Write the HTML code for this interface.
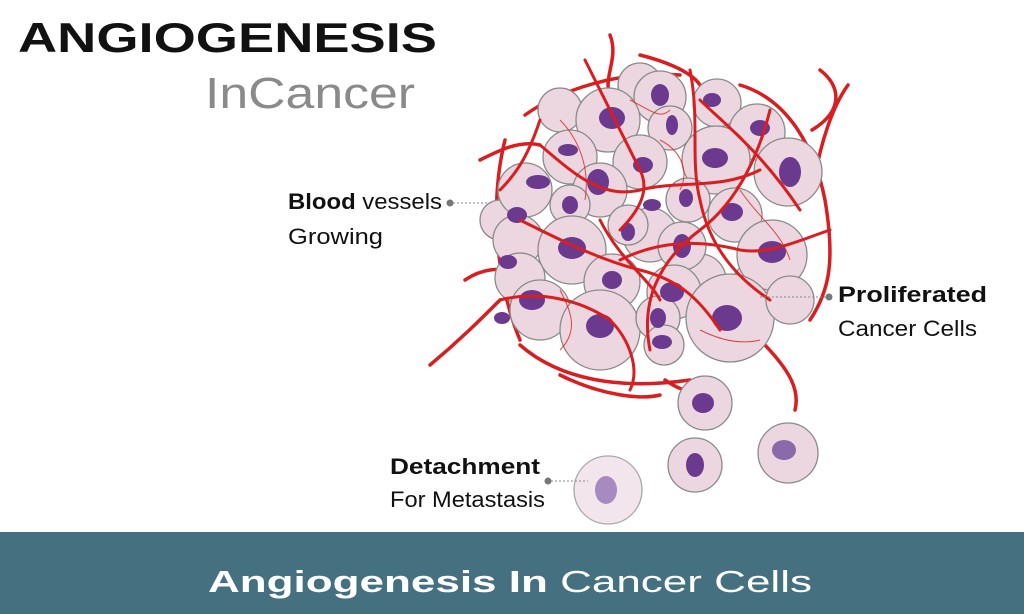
<!DOCTYPE html>
<html><head><meta charset="utf-8"><style>
html,body{margin:0;padding:0;background:#fff;}
svg{display:block;font-family:"Liberation Sans",sans-serif;}
</style></head><body>
<svg width="1024" height="614" viewBox="0 0 1024 614" xmlns="http://www.w3.org/2000/svg">
<rect width="1024" height="614" fill="#fff"/>
<text x="18" y="52" font-size="42" font-weight="bold" fill="#111" textLength="419" lengthAdjust="spacingAndGlyphs">ANGIOGENESIS</text>
<text x="205" y="108" font-size="44" fill="#8a8a8a" textLength="210" lengthAdjust="spacingAndGlyphs">InCancer</text>

<!-- vessels behind -->
<g fill="none" stroke="#d81e20" stroke-width="3.5" stroke-linecap="round">
<path d="M610 35 C620 60 600 80 612 100"/>
<path d="M640 55 C660 60 690 70 700 85"/>
<path d="M820 70 C840 85 845 110 812 130"/>
<path d="M848 85 C830 110 820 150 815 175"/>
<path d="M480 160 C500 150 520 140 540 145"/>
<path d="M465 280 C480 270 500 265 515 275"/>
<path d="M430 365 C460 340 480 320 500 300"/>
<path d="M505 140 C490 200 495 280 520 340"/>
<path d="M525 115 C560 90 620 70 680 75"/>
<path d="M740 85 C790 100 815 150 825 200 C835 260 830 290 810 320"/>
<path d="M520 345 C560 380 620 390 690 380"/>
<path d="M560 375 C600 395 640 400 660 395"/>
<path d="M760 340 C790 370 800 390 795 410"/>
<path d="M665 380 C680 390 690 395 705 385"/>
</g>

<g stroke="#8a8a8a" stroke-width="1.3" fill="#ecd7e0">
<circle cx="640" cy="85" r="22"/><circle cx="760" cy="290" r="30"/><circle cx="700" cy="280" r="26"/>
<circle cx="560" cy="110" r="22"/><circle cx="500" cy="220" r="20"/>
<circle cx="660" cy="97" r="26"/><circle cx="717" cy="103" r="24"/><circle cx="608" cy="120" r="32"/>
<circle cx="670" cy="128" r="22"/><circle cx="757" cy="132" r="28"/><circle cx="570" cy="157" r="27"/>
<circle cx="716" cy="160" r="34"/><circle cx="788" cy="172" r="34"/><circle cx="640" cy="162" r="27"/>
<circle cx="525" cy="190" r="27"/><circle cx="600" cy="190" r="27"/><circle cx="570" cy="205" r="20"/>
<circle cx="688" cy="200" r="22"/><circle cx="735" cy="215" r="27"/><circle cx="650" cy="235" r="27"/>
<circle cx="518" cy="240" r="25"/><circle cx="572" cy="250" r="34"/><circle cx="628" cy="225" r="20"/>
<circle cx="682" cy="246" r="24"/><circle cx="520" cy="278" r="25"/><circle cx="612" cy="282" r="28"/>
<circle cx="674" cy="292" r="27"/><circle cx="772" cy="255" r="35"/><circle cx="540" cy="310" r="30"/>
<circle cx="600" cy="330" r="40"/><circle cx="658" cy="318" r="22"/><circle cx="730" cy="318" r="44"/>
<circle cx="664" cy="345" r="20"/><circle cx="790" cy="300" r="24"/>
<circle cx="705" cy="403" r="27"/><circle cx="695" cy="465" r="27"/><circle cx="788" cy="453" r="30"/>
<circle cx="608" cy="490" r="34" fill="#f2e6ec" stroke="#aaa"/>
</g>
<g fill="#6b3a8f">
<ellipse cx="660" cy="95" rx="9" ry="11"/><ellipse cx="712" cy="100" rx="9" ry="7"/><ellipse cx="612" cy="118" rx="13" ry="11"/>
<ellipse cx="672" cy="125" rx="6" ry="10"/><ellipse cx="760" cy="128" rx="10" ry="8"/><ellipse cx="568" cy="150" rx="10" ry="6"/>
<ellipse cx="715" cy="158" rx="13" ry="10"/><ellipse cx="790" cy="172" rx="11" ry="15"/><ellipse cx="643" cy="165" rx="10" ry="8"/>
<ellipse cx="538" cy="182" rx="12" ry="7"/><ellipse cx="598" cy="182" rx="11" ry="13"/><ellipse cx="570" cy="205" rx="8" ry="9"/>
<ellipse cx="686" cy="198" rx="7" ry="9"/><ellipse cx="732" cy="212" rx="11" ry="9"/><ellipse cx="652" cy="205" rx="9" ry="6"/>
<ellipse cx="517" cy="215" rx="10" ry="8"/><ellipse cx="572" cy="248" rx="14" ry="11"/><ellipse cx="628" cy="232" rx="7" ry="9"/>
<ellipse cx="682" cy="246" rx="9" ry="12"/><ellipse cx="508" cy="262" rx="9" ry="7"/><ellipse cx="612" cy="280" rx="10" ry="9"/>
<ellipse cx="672" cy="292" rx="12" ry="10"/><ellipse cx="772" cy="252" rx="14" ry="11"/><ellipse cx="532" cy="300" rx="13" ry="10"/>
<ellipse cx="600" cy="326" rx="14" ry="12"/><ellipse cx="658" cy="318" rx="8" ry="10"/><ellipse cx="727" cy="318" rx="15" ry="13"/>
<ellipse cx="662" cy="342" rx="10" ry="7"/><ellipse cx="502" cy="318" rx="8" ry="6"/>
<ellipse cx="703" cy="403" rx="11" ry="10"/><ellipse cx="695" cy="465" rx="9" ry="12"/>
<ellipse cx="784" cy="450" rx="12" ry="10" fill="#8a6aa8"/><ellipse cx="606" cy="490" rx="11" ry="14" fill="#a68ac0"/>
</g>
<!-- vessels in front -->
<g fill="none" stroke="#d81e20" stroke-width="3" stroke-linecap="round">
<path d="M585 60 C600 90 620 130 640 170 C650 190 640 210 620 230"/>
<path d="M690 70 C700 120 690 160 700 200 C710 250 740 280 770 300"/>
<path d="M540 145 C570 170 600 200 640 190 C680 180 720 190 760 170"/>
<path d="M770 110 C760 150 740 200 700 230 C660 260 640 300 650 350"/>
<path d="M520 220 C560 240 600 260 640 270 C680 280 700 300 720 330"/>
<path d="M500 300 C540 290 580 300 610 320 C630 340 640 370 630 390"/>
<path d="M700 100 C720 120 760 150 800 210"/>
<path d="M600 220 C620 260 650 280 660 300"/>
<path d="M620 260 C660 240 700 240 740 250 C770 255 800 240 830 230"/>
<path d="M540 120 C530 150 520 170 500 190"/>
</g>
<g fill="none" stroke="#d81e20" stroke-width="1" opacity="0.8">
<path d="M560 120 C580 140 590 170 585 200"/><path d="M740 190 C760 220 780 230 790 260"/>
<path d="M660 140 C680 150 690 170 680 190"/><path d="M560 290 C570 310 580 330 560 350"/>
<path d="M700 330 C720 340 740 345 760 340"/><path d="M630 100 C650 110 660 120 670 110"/>
</g>

<!-- labels -->
<text x="288" y="209" font-size="22" fill="#111" textLength="154" lengthAdjust="spacingAndGlyphs"><tspan font-weight="bold">Blood</tspan> vessels</text>
<text x="288" y="244" font-size="22" fill="#111" textLength="95" lengthAdjust="spacingAndGlyphs">Growing</text>
<circle cx="450" cy="203" r="3.5" fill="#777"/>
<line x1="453" y1="203" x2="492" y2="203" stroke="#888" stroke-width="1" stroke-dasharray="2,2"/>

<text x="838" y="302" font-size="22" font-weight="bold" fill="#111" textLength="149" lengthAdjust="spacingAndGlyphs">Proliferated</text>
<text x="838" y="336" font-size="22" fill="#111" textLength="139" lengthAdjust="spacingAndGlyphs">Cancer Cells</text>
<circle cx="829" cy="297" r="3.5" fill="#777"/>
<line x1="760" y1="297" x2="826" y2="297" stroke="#888" stroke-width="1" stroke-dasharray="2,2"/>

<text x="390" y="474" font-size="22" font-weight="bold" fill="#111" textLength="150" lengthAdjust="spacingAndGlyphs">Detachment</text>
<text x="390" y="507" font-size="22" fill="#111" textLength="155" lengthAdjust="spacingAndGlyphs">For Metastasis</text>
<circle cx="548" cy="481" r="3.5" fill="#777"/>
<line x1="551" y1="481" x2="588" y2="481" stroke="#888" stroke-width="1" stroke-dasharray="2,2"/>

<rect x="0" y="532" width="1024" height="82" fill="#44707f"/>
<text x="208" y="592" font-size="31" fill="#fff" textLength="604" lengthAdjust="spacingAndGlyphs"><tspan font-weight="bold">Angiogenesis In</tspan> Cancer Cells</text>
</svg>
</body></html>
